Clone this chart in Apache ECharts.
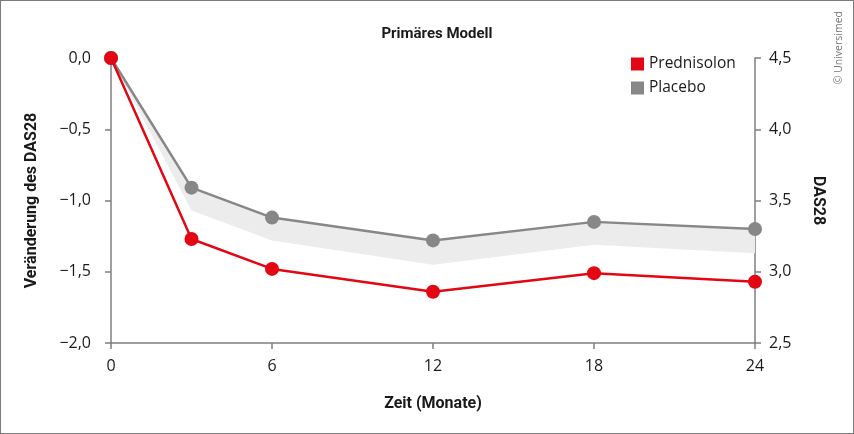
<!DOCTYPE html>
<html>
<head>
<meta charset="utf-8">
<script src="https://cdn.jsdelivr.net/npm/echarts@6/dist/echarts.min.js"></script>
<style>
html,body{margin:0;padding:0;background:#fff;}
#c{width:852px;height:432px;border:1px solid #7a7a7a;}
</style>
</head>
<body>
<div id="c"></div>
<script>
var months = [0, 3, 6, 12, 18, 24];
var prednisolon = [0, -1.27, -1.48, -1.64, -1.51, -1.57];
var placebo = [0, -0.91, -1.12, -1.28, -1.15, -1.20];
var placeboBandLower = [0, -1.07, -1.28, -1.45, -1.31, -1.37];
var xTicks = [0, 6, 12, 18, 24];

function pairs(ys) { return months.map(function (m, i) { return [m, ys[i]]; }); }
function fmt(v) {
  var s = Math.abs(v).toFixed(1).replace('.', ',');
  return (v < -1e-9 ? '\u2212' : '') + s;
}
var RED = '#e30613', GRAY = '#878787';
var chart = echarts.init(document.getElementById('c'));

chart.setOption({
  animation: false,
  title: {
    text: 'Primäres Modell', left: 431, top: 21, textAlign: 'center',
    textStyle: { fontFamily: 'Roboto', fontWeight: 'bold', fontSize: 15, color: '#1a1a1a' }
  },
  legend: {
    orient: 'vertical', left: 625, top: 50, itemWidth: 13, itemHeight: 13, itemGap: 8,
    icon: 'rect',
    data: [{ name: 'Prednisolon', itemStyle: { color: RED } }, { name: 'Placebo', itemStyle: { color: GRAY } }],
    textStyle: { fontFamily: 'Open Sans', fontSize: 15.5, color: '#1a1a1a' }
  },
  graphic: [{
    type: 'text', left: 833, top: 10, rotation: Math.PI / 2,
    style: { text: '\u00A9 Universimed', fontFamily: 'Open Sans', fontSize: 10.5, fill: '#777' }
  }],
  grid: { left: 110, right: 98, top: 57, bottom: 90 },
  xAxis: {
    type: 'value', min: 0, max: 24, interval: 6,
    name: 'Zeit (Monate)', nameLocation: 'middle', nameGap: 53,
    nameTextStyle: { fontFamily: 'Roboto', fontWeight: 'bold', fontSize: 16, color: '#1a1a1a' },
    axisLine: { onZero: false, lineStyle: { color: '#7f7f7f', width: 1.5 } },
    axisTick: { show: true, length: 6, lineStyle: { color: '#7f7f7f', width: 1.5 } },
    axisLabel: { margin: 15, fontFamily: 'Open Sans', fontSize: 16, color: '#1a1a1a',
      formatter: function (v) { return xTicks.indexOf(v) >= 0 ? String(v) : ''; } },
    splitLine: { show: false }
  },
  yAxis: [{
    type: 'value', min: -2, max: 0, interval: 0.5, position: 'left',
    name: 'Veränderung des DAS28', nameLocation: 'middle', nameGap: 71, nameRotate: 90,
    nameTextStyle: { fontFamily: 'Roboto', fontWeight: 'bold', fontSize: 16, color: '#1a1a1a' },
    axisLine: { show: true, onZero: false, lineStyle: { color: '#7f7f7f', width: 1.5 } },
    axisTick: { show: true, length: 6, lineStyle: { color: '#7f7f7f', width: 1.5 } },
    axisLabel: { margin: 20, fontFamily: 'Open Sans', fontSize: 16, color: '#1a1a1a', formatter: fmt },
    splitLine: { show: false }
  }, {
    type: 'value', min: 2.5, max: 4.5, interval: 0.5, position: 'right',
    name: 'DAS28', nameLocation: 'middle', nameGap: 55, nameRotate: -90,
    nameTextStyle: { fontFamily: 'Roboto', fontWeight: 'bold', fontSize: 16, color: '#1a1a1a' },
    axisLine: { show: true, onZero: false, lineStyle: { color: '#7f7f7f', width: 1.5 } },
    axisTick: { show: true, length: 6, lineStyle: { color: '#7f7f7f', width: 1.5 } },
    axisLabel: { margin: 14, fontFamily: 'Open Sans', fontSize: 16, color: '#1a1a1a', formatter: fmt },
    splitLine: { show: false }
  }],
  series: [{
    name: 'band', type: 'custom', silent: true, z: 1,
    data: [[0, 0]],
    renderItem: function (params, api) {
      var pts = [];
      for (var i = 0; i < months.length; i++) pts.push(api.coord([months[i], placebo[i]]));
      for (var j = months.length - 1; j >= 0; j--) pts.push(api.coord([months[j], placeboBandLower[j]]));
      return { type: 'polygon', shape: { points: pts }, style: { fill: '#ececec' } };
    }
  }, {
    name: 'Placebo', type: 'line', data: pairs(placebo), symbol: 'circle', symbolSize: 14,
    lineStyle: { color: GRAY, width: 2.5 }, itemStyle: { color: GRAY }, z: 3
  }, {
    name: 'Prednisolon', type: 'line', data: pairs(prednisolon), symbol: 'circle', symbolSize: 14,
    lineStyle: { color: RED, width: 2.5 }, itemStyle: { color: RED }, z: 4
  }]
});
</script>
</body>
</html>
